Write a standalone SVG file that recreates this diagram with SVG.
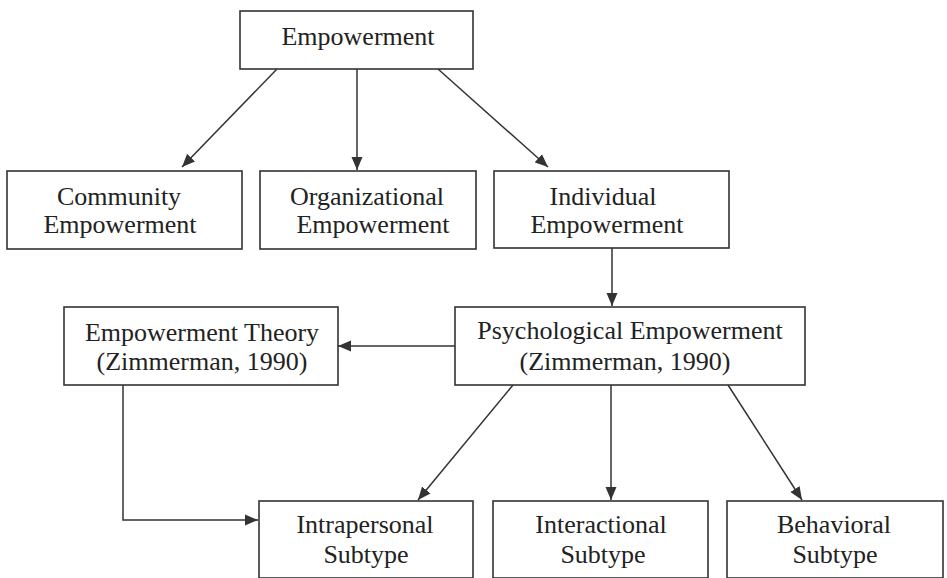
<svg xmlns="http://www.w3.org/2000/svg" width="947" height="578" viewBox="0 0 947 578">
<defs>
<marker id="arr" markerUnits="userSpaceOnUse" markerWidth="14" markerHeight="12" refX="13" refY="6" orient="auto">
<path d="M0,0.5 L13,6 L0,11.5 Z" fill="#333"/>
</marker>
<style>
.box{fill:#fff;stroke:#333;stroke-width:1.6}
.t{font-family:"Liberation Serif","Times New Roman",serif;font-size:26px;fill:#222;text-anchor:middle}
.c{fill:none;stroke:#333;stroke-width:1.5;marker-end:url(#arr)}
</style>
</defs>
<rect width="947" height="578" fill="#fff"/>
<g id="connectors">
<line class="c" x1="277" y1="69" x2="182" y2="167"/>
<line class="c" x1="357" y1="69" x2="357" y2="170"/>
<line class="c" x1="438" y1="69" x2="548" y2="167"/>
<line class="c" x1="612" y1="248" x2="612" y2="306"/>
<line class="c" x1="455" y1="346" x2="338" y2="346"/>
<polyline class="c" points="123,385 123,520 258,520"/>
<line class="c" x1="513" y1="385" x2="418" y2="500"/>
<line class="c" x1="611" y1="385" x2="611" y2="500"/>
<line class="c" x1="728" y1="385" x2="802" y2="500"/>
</g>
<g id="empowerment">
<rect class="box" x="240" y="11" width="233" height="58"/>
<text class="t" x="358" y="45">Empowerment</text>
</g>
<g id="community">
<rect class="box" x="7" y="171" width="235" height="78"/>
<text class="t" x="119" y="205">Community</text>
<text class="t" x="120" y="233">Empowerment</text>
</g>
<g id="organizational">
<rect class="box" x="260" y="171" width="216" height="78"/>
<text class="t" x="367" y="205">Organizational</text>
<text class="t" x="373" y="233">Empowerment</text>
</g>
<g id="individual">
<rect class="box" x="494" y="171" width="235" height="77"/>
<text class="t" x="603" y="205">Individual</text>
<text class="t" x="607" y="233">Empowerment</text>
</g>
<g id="theory">
<rect class="box" x="64" y="307" width="274" height="78"/>
<text class="t" x="202" y="341">Empowerment Theory</text>
<text class="t" x="202" y="370">(Zimmerman, 1990)</text>
</g>
<g id="psychological">
<rect class="box" x="455" y="307" width="350" height="78"/>
<text class="t" x="630" y="339">Psychological Empowerment</text>
<text class="t" x="625" y="370">(Zimmerman, 1990)</text>
</g>
<g id="intrapersonal">
<rect class="box" x="259" y="501" width="214" height="77"/>
<text class="t" x="365" y="533">Intrapersonal</text>
<text class="t" x="366" y="563">Subtype</text>
</g>
<g id="interactional">
<rect class="box" x="493" y="501" width="215" height="77"/>
<text class="t" x="601" y="533">Interactional</text>
<text class="t" x="603" y="563">Subtype</text>
</g>
<g id="behavioral">
<rect class="box" x="727" y="501" width="216" height="77"/>
<text class="t" x="834" y="533">Behavioral</text>
<text class="t" x="835" y="563">Subtype</text>
</g>
</svg>
